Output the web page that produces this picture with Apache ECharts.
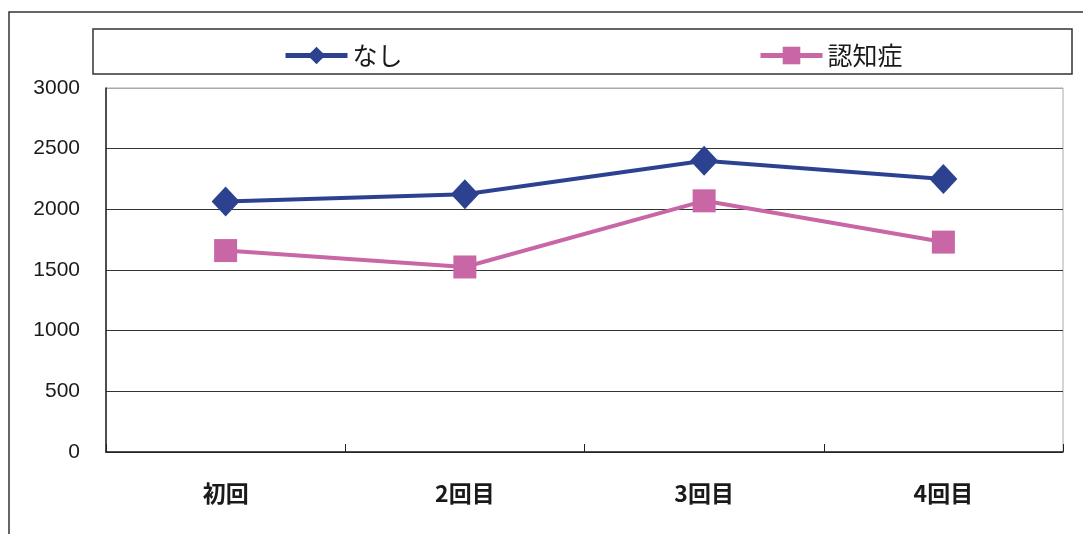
<!DOCTYPE html>
<html><head><meta charset="utf-8">
<script src="https://cdn.jsdelivr.net/npm/echarts@6/dist/echarts.min.js"></script>
<style>html,body{margin:0;padding:0;background:#fff}#c{width:1087px;height:534px}</style>
</head><body><div id="c"></div>
<script>
const categories = ['初回', '2回目', '3回目', '4回目'];
const seriesNashi = [2065, 2125, 2400, 2250];
const seriesNinchi = [1660, 1525, 2070, 1730];
const yMin = 0, yMax = 3000, yInterval = 500;

const blue = '#2C4290';
const pink = '#C966A6';
const chart = echarts.init(document.getElementById('c'));
const legendCommon = {
  top: 38, itemWidth: 62, itemHeight: 22, itemGap: 6,
  lineStyle: { width: 5 },
  textStyle: { fontFamily: 'Noto Sans CJK JP', fontSize: 25, color: '#1a1a1a' }
};
chart.setOption({
  animation: false,
  backgroundColor: '#fff',
  graphic: [
    { type: 'polyline', shape: { points: [[9, 540], [9, 12], [1083, 12]] }, style: { stroke: '#333', lineWidth: 1.5, fill: null }, silent: true },
    { type: 'rect', shape: { x: 93, y: 29, width: 979, height: 45 }, style: { stroke: '#333', lineWidth: 1.5, fill: 'transparent' }, silent: true, z: -1 }
  ],
  legend: [
    Object.assign({ data: ['なし'], left: 278 }, legendCommon),
    Object.assign({ data: ['認知症'], left: 753 }, legendCommon)
  ],
  grid: { left: 106, right: 24, top: 88, bottom: 82, show: true, borderColor: '#aaa', borderWidth: 1 },
  xAxis: {
    type: 'category', data: categories, boundaryGap: true,
    axisLine: { lineStyle: { color: '#222', width: 1.5 } },
    axisTick: { show: true, inside: true, length: 8, interval: 0, lineStyle: { color: '#222' } },
    axisLabel: { margin: 30, fontFamily: 'Noto Sans CJK JP', fontWeight: 'bold', fontSize: 23, color: '#1a1a1a' },
    splitLine: { show: false }
  },
  yAxis: {
    type: 'value', min: yMin, max: yMax, interval: yInterval,
    axisLine: { show: true, lineStyle: { color: '#222', width: 1.5 } },
    axisTick: { show: false },
    axisLabel: { margin: 26, fontFamily: 'Liberation Sans', fontSize: 21, color: '#1a1a1a',
      formatter: function (v) { return String(v); } },
    splitLine: { show: true, lineStyle: { color: ['#333', '#333', '#333', '#333', '#333', '#333', '#aaa'], width: 1.2 } }
  },
  series: [
    { name: 'なし', type: 'line', data: seriesNashi, symbol: 'diamond', symbolSize: [28, 30],
      lineStyle: { color: blue, width: 4 }, itemStyle: { color: blue } },
    { name: '認知症', type: 'line', data: seriesNinchi, symbol: 'rect', symbolSize: 23,
      lineStyle: { color: pink, width: 4 }, itemStyle: { color: pink } }
  ]
});
</script></body></html>
